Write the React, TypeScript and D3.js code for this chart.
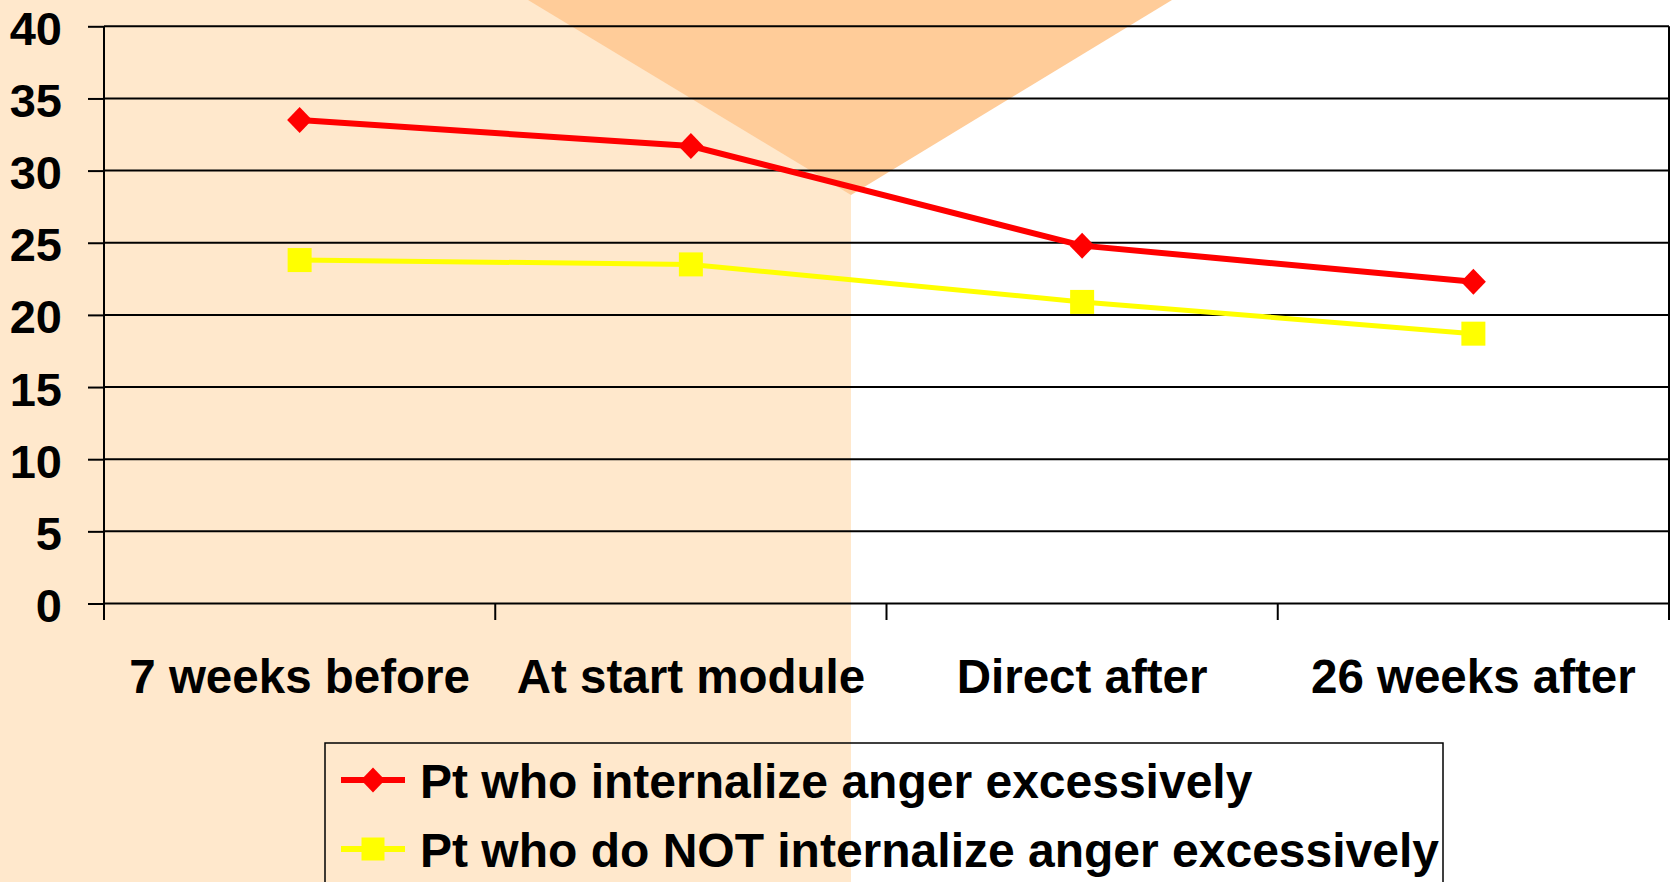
import React, { useRef, useEffect } from "react";
import { select, scaleBand, scaleLinear, axisLeft, line } from "d3";

const categories = ["7 weeks before", "At start module", "Direct after", "26 weeks after"];
const internalizeValues = [33.5, 31.7, 24.8, 22.3];
const notInternalizeValues = [23.8, 23.5, 20.9, 18.7];
const yTicks = [0, 5, 10, 15, 20, 25, 30, 35, 40];
const seriesNames = ["Pt who internalize anger excessively", "Pt who do NOT internalize anger excessively"];

const W = 1674;
const H = 882;
const FONT = "'Liberation Sans', Arial, sans-serif";

export default function App() {
  const svgRef = useRef<SVGSVGElement>(null);

  useEffect(() => {
    const svg = select(svgRef.current);
    svg.selectAll("*").remove();

    const left = 104, right = 1669, top = 26.3, bottom = 603.5;
    const xScale = scaleBand<string>().domain(categories).range([left, right]).padding(0);
    const yScale = scaleLinear().domain([0, 40]).range([bottom, top]);
    const cx = (d: string) => (xScale(d) as number) + xScale.bandwidth() / 2;

    // background: peach on the left half, white on the right
    svg.append("rect").attr("width", W).attr("height", H).attr("fill", "#fff");
    svg.append("rect").attr("width", 851).attr("height", H).attr("fill", "#FFE8CC");
    svg.append("path").attr("d", "M528,0 L1172,0 L851,195 Z").attr("fill", "#FFCC99");

    // gridlines
    svg.append("g")
      .selectAll("line")
      .data(yTicks)
      .join("line")
      .attr("x1", left).attr("x2", right)
      .attr("y1", (d) => yScale(d)).attr("y2", (d) => yScale(d))
      .attr("stroke", "#000").attr("stroke-width", 2);

    // y axis with outside ticks
    const yAxis = axisLeft(yScale).tickValues(yTicks).tickSize(16).tickPadding(26).tickSizeOuter(0);
    const gy = svg.append("g").attr("transform", `translate(${left},0)`).call(yAxis);
    gy.select(".domain").remove();
    gy.selectAll(".tick line").attr("stroke", "#000").attr("stroke-width", 2);
    gy.selectAll(".tick text")
      .attr("dy", null).attr("y", 18)
      .attr("fill", "#000")
      .style("font-family", FONT).style("font-weight", "bold").style("font-size", "47px");

    // vertical axis line, right border, category boundary ticks
    const bounds = categories.map((c) => xScale(c) as number).concat([right]);
    svg.append("g")
      .selectAll("line")
      .data(bounds)
      .join("line")
      .attr("x1", (d) => d).attr("x2", (d) => d)
      .attr("y1", (d, i) => (i === 0 || i === bounds.length - 1 ? top : bottom))
      .attr("y2", 620)
      .attr("stroke", "#000").attr("stroke-width", 2);

    // x labels
    svg.append("g")
      .selectAll("text")
      .data(categories)
      .join("text")
      .attr("x", cx).attr("y", 693)
      .attr("text-anchor", "middle")
      .style("font-family", FONT).style("font-weight", "bold").style("font-size", "47.5px")
      .text((d) => d);

    const lineGen = line<number>().x((d, i) => cx(categories[i])).y((d) => yScale(d));

    // yellow series
    svg.append("path").attr("d", lineGen(notInternalizeValues))
      .attr("fill", "none").attr("stroke", "#FFFF00").attr("stroke-width", 5);
    svg.append("g").selectAll("rect").data(notInternalizeValues).join("rect")
      .attr("x", (d, i) => cx(categories[i]) - 12).attr("y", (d) => yScale(d) - 12)
      .attr("width", 24).attr("height", 24).attr("fill", "#FFFF00");

    // red series
    svg.append("path").attr("d", lineGen(internalizeValues))
      .attr("fill", "none").attr("stroke", "#FF0000").attr("stroke-width", 6);
    svg.append("g").selectAll("path").data(internalizeValues).join("path")
      .attr("d", (d, i) => {
        const x = cx(categories[i]), y = yScale(d);
        return `M${x},${y - 13} L${x + 12.5},${y} L${x},${y + 13} L${x - 12.5},${y} Z`;
      })
      .attr("fill", "#FF0000");

    // legend
    const lg = svg.append("g");
    lg.append("rect").attr("x", 325).attr("y", 743).attr("width", 1118).attr("height", 200)
      .attr("fill", "none").attr("stroke", "#000").attr("stroke-width", 1.5);
    const rows = [
      { name: seriesNames[0], color: "#FF0000", y: 780, marker: "diamond" },
      { name: seriesNames[1], color: "#FFFF00", y: 849, marker: "square" },
    ];
    rows.forEach((r) => {
      lg.append("line").attr("x1", 341).attr("x2", 405).attr("y1", r.y).attr("y2", r.y)
        .attr("stroke", r.color).attr("stroke-width", 6);
      if (r.marker === "diamond") {
        lg.append("path").attr("d", `M373,${r.y - 12.5} L385,${r.y} L373,${r.y + 12.5} L361,${r.y} Z`).attr("fill", r.color);
      } else {
        lg.append("rect").attr("x", 361.5).attr("y", r.y - 11.5).attr("width", 23).attr("height", 23).attr("fill", r.color);
      }
      lg.append("text").attr("x", 420).attr("y", r.y + 18)
        .style("font-family", FONT).style("font-weight", "bold").style("font-size", "48px")
        .text(r.name);
    });
  }, []);

  return (
    <svg
      ref={svgRef}
      width={W}
      height={H}
      style={{ position: "absolute", left: 0, top: 0, display: "block" }}
    />
  );
}
